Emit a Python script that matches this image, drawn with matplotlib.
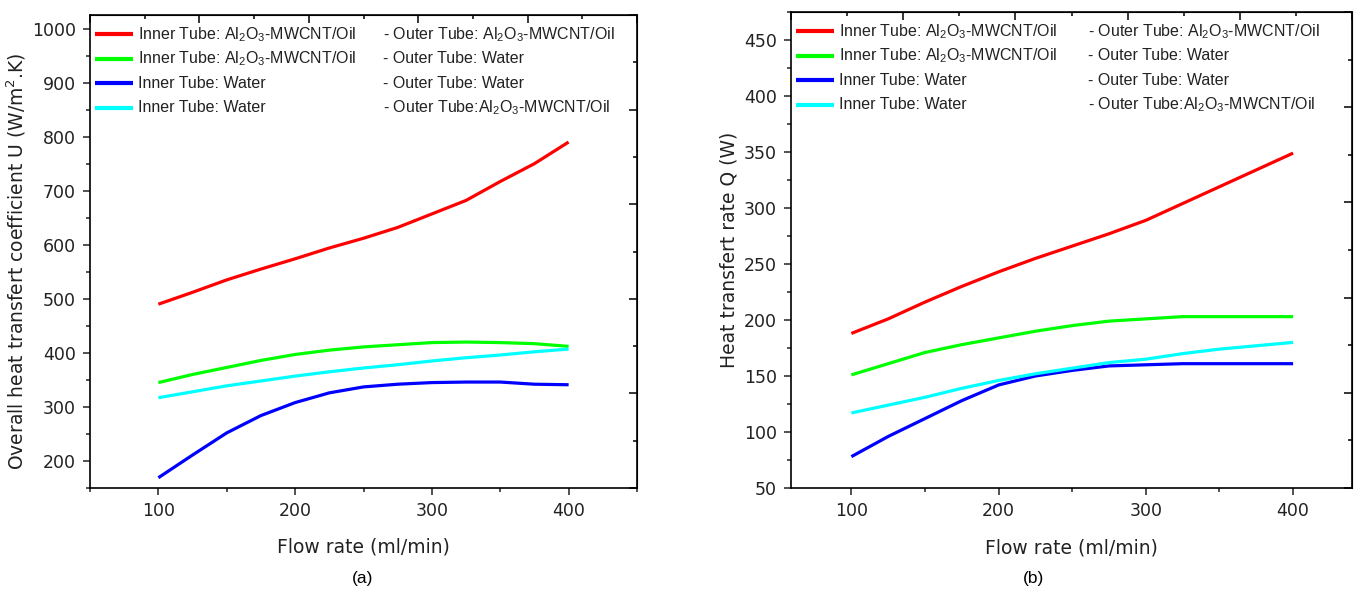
import matplotlib
matplotlib.use('Agg')
import matplotlib.pyplot as plt
from matplotlib.ticker import MultipleLocator

plt.rcParams['font.family'] = ['Liberation Sans', 'DejaVu Sans']
plt.rcParams['mathtext.fontset'] = 'custom'
plt.rcParams['mathtext.rm'] = 'Liberation Sans'

# flow rate (ml/min)
flow = [100, 125, 150, 175, 200, 225, 250, 275, 300, 325, 350, 375, 400]

# (a) overall heat transfer coefficient U (W/m2.K)
u_oil_oil = [490, 512, 535, 555, 574, 594, 612, 632, 657, 682, 717, 750, 790]
u_oil_water = [345, 360, 373, 386, 397, 405, 411, 415, 419, 420, 419, 417, 412]
u_water_water = [169, 211, 252, 284, 308, 326, 337, 342, 345, 346, 346, 342, 341]
u_water_oil = [317, 328, 339, 348, 357, 365, 372, 378, 385, 391, 396, 402, 407]

# (b) heat transfer rate Q (W)
q_oil_oil = [188, 201, 216, 230, 243, 255, 266, 277, 289, 304, 319, 334, 349]
q_oil_water = [151, 161, 171, 178, 184, 190, 195, 199, 201, 203, 203, 203, 203]
q_water_water = [78, 96, 112, 128, 142, 150, 155, 159, 160, 161, 161, 161, 161]
q_water_oil = [117, 124, 131, 139, 146, 152, 157, 162, 165, 170, 174, 177, 180]

colors = ['#ff0000', '#00ff00', '#0000ff', '#00ffff']
al2o3 = r'Al$_\mathregular{2}$O$_\mathregular{3}$-MWCNT/Oil'
inner_labels = ['Inner Tube: ' + al2o3, 'Inner Tube: ' + al2o3,
                'Inner Tube: Water', 'Inner Tube: Water']
outer_labels = ['- Outer Tube: ' + al2o3, '- Outer Tube: Water',
                '- Outer Tube: Water', '- Outer Tube:' + al2o3]

wide = ['DejaVu Sans']
txt_color = '#222222'

fig = plt.figure(figsize=(13.62, 5.92), dpi=100)
ax1 = fig.add_axes([90 / 1362, 104 / 592, 547 / 1362, 473 / 592])
ax2 = fig.add_axes([791 / 1362, 104 / 592, 561 / 1362, 476 / 592])

panels = [
    (ax1, [u_oil_oil, u_oil_water, u_water_water, u_water_oil],
     'Overall heat transfert coefficient U (W/m$^\\mathregular{2}$.K)',
     (50, 450), (150, 1025), 100, 50, 0.536),
    (ax2, [q_oil_oil, q_oil_water, q_water_water, q_water_oil],
     'Heat transfert rate Q (W)',
     (59, 440), (50, 475), 50, 25, 0.529),
]

for ax, series, ylab, xl, yl, ymaj, ymin, outer_x in panels:
    for s, c, lab in zip(series, colors, inner_labels):
        ax.plot(flow, s, color=c, lw=2.3, label=lab, solid_capstyle='butt')
    ax.set_xlim(*xl)
    ax.set_ylim(*yl)
    ax.xaxis.set_major_locator(MultipleLocator(100))
    ax.xaxis.set_minor_locator(MultipleLocator(50))
    ax.yaxis.set_major_locator(MultipleLocator(ymaj))
    ax.yaxis.set_minor_locator(MultipleLocator(ymin))
    ax.tick_params(which='both', direction='out', width=1.1, colors=txt_color)
    ax.tick_params(which='major', length=5, pad=5)
    ax.tick_params(which='minor', length=3)
    for t in ax.get_xticklabels() + ax.get_yticklabels():
        t.set_family(wide)
        t.set_fontsize(12.5)
    for sp in ax.spines.values():
        sp.set_linewidth(1.2)
    ax.set_xlabel('Flow rate (ml/min)', fontsize=13.5, color=txt_color, family=wide)
    ax.set_ylabel(ylab, fontsize=13.5, color=txt_color, family=wide)

    # mirrored top/right ticks (independent scale, pointing in)
    secx = ax.secondary_xaxis('top', functions=(lambda v, a=xl: (v - a[0]) / (a[1] - a[0]) * 10,
                                                lambda v, a=xl: a[0] + v / 10 * (a[1] - a[0])))
    secx.xaxis.set_major_locator(MultipleLocator(2))
    secx.xaxis.set_minor_locator(MultipleLocator(1))
    secx.tick_params(which='both', direction='in', labeltop=False, width=1.1)
    secx.tick_params(which='major', length=6)
    secx.tick_params(which='minor', length=3)
    secy = ax.secondary_yaxis('right', functions=(lambda v, a=yl: (v - a[0]) / (a[1] - a[0]) * 10,
                                                  lambda v, a=yl: a[0] + v / 10 * (a[1] - a[0])))
    secy.yaxis.set_major_locator(MultipleLocator(2))
    secy.yaxis.set_minor_locator(MultipleLocator(1))
    secy.tick_params(which='both', direction='in', labelright=False, width=1.1)
    secy.tick_params(which='major', length=6)
    secy.tick_params(which='minor', length=3)

    leg = ax.legend(loc='upper left', bbox_to_anchor=(0.0, 0.995), frameon=False,
                    fontsize=11.5, handlelength=2.4, handletextpad=0.3,
                    handleheight=1.9, borderpad=0.0, borderaxespad=0.3,
                    labelspacing=0.05)
    for t in leg.get_texts():
        t.set_color(txt_color)
    for line in leg.get_lines():
        line.set_linewidth(3)
        line.set_ydata(line.get_ydata() - 2.6)
    ax._outer_x = outer_x

ax1.set_yticks(range(200, 1001, 100))
for t in ax1.get_yticklabels():
    t.set_family(wide)
    t.set_fontsize(12.5)
ax1.xaxis.set_label_coords(0.5, -0.104)
ax2.xaxis.set_label_coords(0.5, -0.107)
ax1.yaxis.set_label_coords(-0.113, 0.48)
ax2.yaxis.set_label_coords(-0.094, 0.5)

# second legend column, aligned on the legend rows
fig.canvas.draw()
for ax in (ax1, ax2):
    leg = ax.get_legend()
    inv = ax.transAxes.inverted()
    for t, lab in zip(leg.get_texts(), outer_labels):
        bb = t.get_window_extent()
        ymid = inv.transform(((bb.x0 + bb.x1) / 2, (bb.y0 + bb.y1) / 2))[1]
        ax.text(ax._outer_x, ymid, lab, transform=ax.transAxes, fontsize=11.5,
                va='center', ha='left', color=txt_color)

fig.text(363 / 1362, 1 - 578 / 592, '(a)', ha='center', va='center', fontsize=12.5)
fig.text(1033 / 1362, 1 - 578 / 592, '(b)', ha='center', va='center', fontsize=12.5)

fig.savefig('out.png', dpi=100)
